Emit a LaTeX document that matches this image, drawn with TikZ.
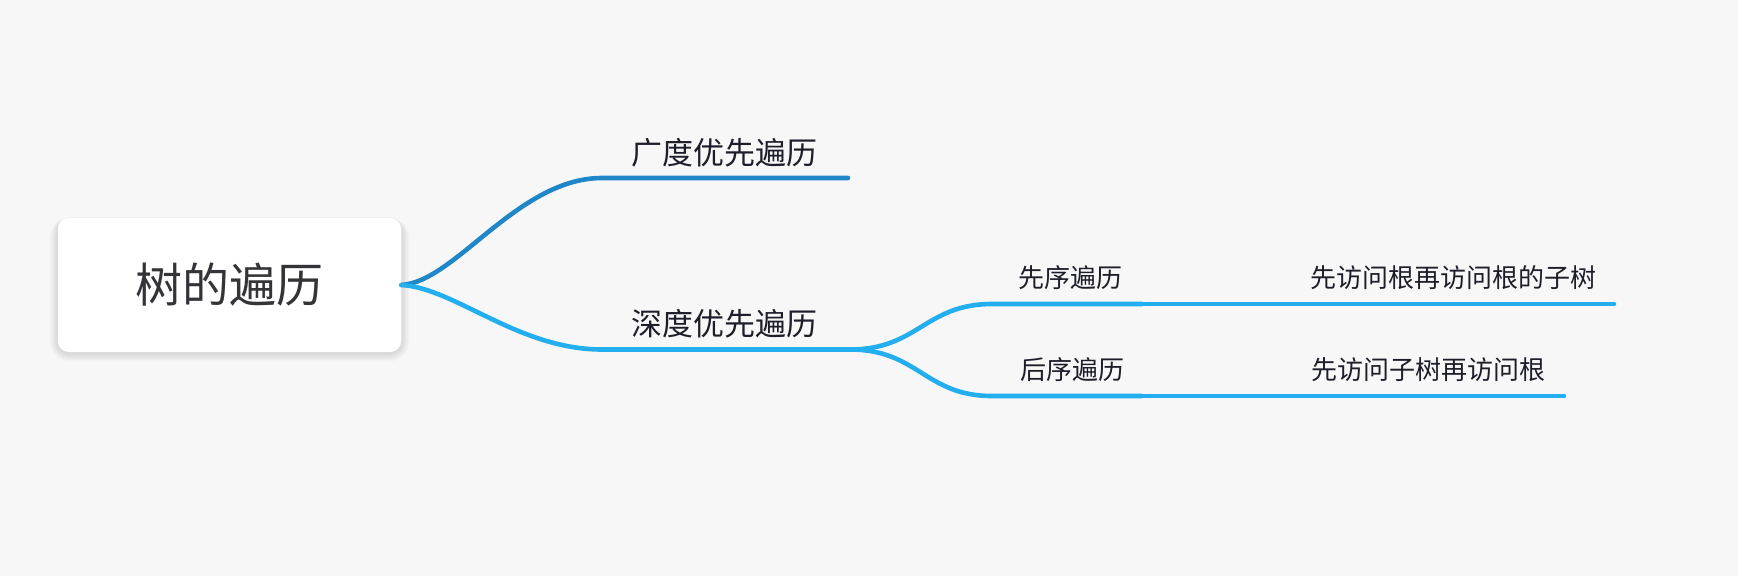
\documentclass[tikz,border=0pt]{standalone}
\usepackage{fontspec}
\newfontfamily\cjk{Noto Sans CJK SC}
\definecolor{bg}{HTML}{F7F7F7}
\definecolor{bdark}{HTML}{1F87C7}
\definecolor{blight}{HTML}{23AEEF}
\definecolor{txt}{HTML}{1E1E2A}
\definecolor{roottxt}{HTML}{333338}
\begin{document}
\begin{tikzpicture}[x=1pt,y=-1pt,
  rootbox/.style={rectangle, rounded corners=11pt, fill=white, draw=none,
    minimum width=343.5pt, minimum height=134pt, inner sep=0pt,
    text=roottxt, font=\cjk\fontsize{47}{47}\selectfont},
  shadowlayer/.style={fill=black, fill opacity=0.011, draw=none},
  lbltwo/.style={inner sep=0pt, text=txt, font=\cjk\fontsize{31}{31}\selectfont},
  lblthree/.style={inner sep=0pt, text=txt, anchor=west, font=\cjk\fontsize{26}{26}\selectfont},
  linedark/.style={draw=bdark, line width=4.6pt, line cap=round},
  linelight/.style={draw=blight, line width=4.6pt, line cap=round},
]
\fill[bg] (0,0) rectangle (1738,576);
\useasboundingbox (0,0) rectangle (1738,576);

% soft shadow of the root box
\foreach \s in {1,2,...,10}{
  \fill[shadowlayer, rounded corners=11pt+\s pt]
    (57.6-\s*0.8,218-\s*0.3+2) rectangle (401.4+\s*0.8,352+\s*0.9+1);
}

% root
\node[rootbox] (root) at (229.5,285) {树的遍历};

% level 2 labels
\node[lbltwo] (bfs) at (724,153) {广度优先遍历};
\node[lbltwo] (dfs) at (724,323.5) {深度优先遍历};

% level 3 labels
\node[lblthree] (pre) at (1018,277.5) {先序遍历};
\node[lblthree] (preD) at (1310,277.5) {先访问根再访问根的子树};
\node[lblthree] (post) at (1020,370) {后序遍历};
\node[lblthree] (postD) at (1311,370) {先访问子树再访问根};

% line coordinates
\coordinate (rootR) at (root.east);
\coordinate (bfsA) at (602,178);
\coordinate (bfsB) at (848,178);
\coordinate (dfsA) at (602,349.5);
\coordinate (dfsB) at (850,349.5);
\coordinate (preA) at (992,304);
\coordinate (preB) at (1142,304);
\coordinate (preC) at (1614,304);
\coordinate (postA) at (992,396);
\coordinate (postB) at (1142,396);
\coordinate (postC) at (1564,396);

% connectors
\draw[linedark] (rootR) .. controls (455,282) and (518,178) .. (bfsA) -- (bfsB);
\draw[linelight] (rootR) .. controls (455,288) and (518,349.5) .. (dfsA) -- (dfsB);
\draw[linelight] (dfsB) .. controls (918,349.5) and (925,304) .. (preA) -- (preB);
\draw[linelight] (preB) -- (preC);
\draw[linelight] (dfsB) .. controls (918,349.5) and (925,396) .. (postA) -- (postB);
\draw[linelight] (postB) -- (postC);
\end{tikzpicture}
\end{document}
